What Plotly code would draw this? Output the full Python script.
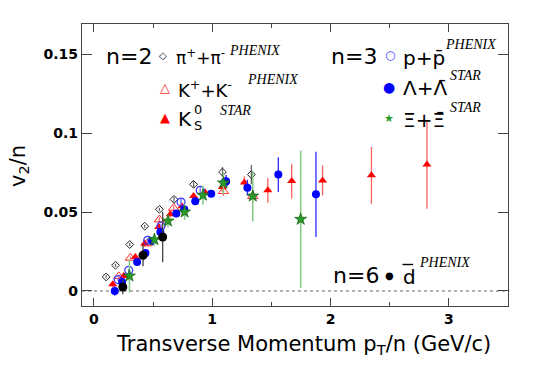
import plotly.graph_objects as go

# ---------------- data ----------------
pion_x = [0.104, 0.183, 0.303, 0.43, 0.554, 0.677, 0.843, 1.087, 1.331]
pion_y = [0.0089, 0.0163, 0.0294, 0.041, 0.0517, 0.058, 0.0675, 0.0753, 0.0737]
pion_err = [0.001, 0.001, 0.001, 0.001, 0.001, 0.0015, 0.002, 0.003, 0.006]

kaon_x = [0.211, 0.309, 0.45, 0.554, 0.674, 1.095, 1.343]
kaon_y = [0.0093, 0.0209, 0.030, 0.0452, 0.0525, 0.0631, 0.060]
kaon_err = [0.001, 0.001, 0.001, 0.0015, 0.0015, 0.003, 0.004]

ks_x = [0.16, 0.253, 0.351, 0.43, 0.548, 0.646, 0.745, 0.843, 0.941, 1.085,
        1.272, 1.47, 1.672, 1.933, 2.346, 2.815]
ks_y = [0.0042, 0.0095, 0.0215, 0.030, 0.0405, 0.0485, 0.0536, 0.0601, 0.0623,
        0.0658, 0.0686, 0.0637, 0.0696, 0.070, 0.0732, 0.080]
ks_err = [0.002, 0.002, 0.002, 0.002, 0.002, 0.002, 0.002, 0.002, 0.002, 0.003,
          0.004, 0.0078, 0.011, 0.0095, 0.018, 0.028]

pbar_x = [0.206, 0.295, 0.455, 0.568, 0.737, 0.899, 1.11]
pbar_y = [0.0072, 0.0131, 0.0321, 0.0411, 0.0563, 0.0637, 0.069]
pbar_err = [0.001, 0.001, 0.0015, 0.0015, 0.002, 0.002, 0.003]

lam_x = [0.177, 0.239, 0.366, 0.436, 0.492, 0.562, 0.697, 0.764, 0.857, 0.992,
         1.118, 1.298, 1.559, 1.877]
lam_y = [0.0, 0.0057, 0.0184, 0.024, 0.0316, 0.0373, 0.049, 0.0517, 0.0568,
         0.0616, 0.0694, 0.0654, 0.0737, 0.0612]
lam_err = [0.003, 0.002, 0.002, 0.002, 0.002, 0.002, 0.002, 0.002, 0.002, 0.002,
           0.004, 0.005, 0.011, 0.027]

xi_x = [0.301, 0.512, 0.627, 0.767, 0.922, 1.095, 1.343, 1.748]
xi_y = [0.0095, 0.0325, 0.0443, 0.050, 0.0606, 0.0684, 0.0601, 0.0454]
xi_err = [0.0105, 0.004, 0.004, 0.005, 0.006, 0.007, 0.016, 0.0435]

dbar_x = [0.245, 0.416, 0.582]
dbar_y = [0.0025, 0.0226, 0.0342]
dbar_err = [0.0045, 0.007, 0.016]

x_ticks = [0, 1, 2, 3]
x_ticklabels = ["0", "1", "2", "3"]
y_ticks = [0, 0.05, 0.1, 0.15]
y_ticklabels = ["0", "0.05", "0.1", "0.15"]

# ---------------- figure ----------------
SANS = "DejaVu Sans"
SERIF = "Liberation Serif"

fig = go.Figure()


def add(x, y, err, symbol, size, color, line_color, line_w, err_color, err_w=1.3):
    fig.add_trace(go.Scatter(
        x=x, y=y, mode="markers",
        error_y=dict(type="data", array=err, visible=True, color=err_color,
                     thickness=err_w, width=0),
        marker=dict(symbol=symbol, size=size, color=color,
                    line=dict(color=line_color, width=line_w)),
        showlegend=False, hoverinfo="skip"))


add(pion_x, pion_y, pion_err, "diamond-open", 6, "#222222", "#222222", 1, "#666666")
add(kaon_x, kaon_y, kaon_err, "triangle-up-open", 9, "#ff2a2a", "#ff2a2a", 1, "#ff7070")
add(ks_x, ks_y, ks_err, "triangle-up", 8, "#ff0000", "#ff0000", 0, "#ff6060")
add(pbar_x, pbar_y, pbar_err, "circle-open", 8, "#3a3aff", "#3a3aff", 1.2, "#6a6aff")
add(lam_x, lam_y, lam_err, "circle", 8, "#0000ff", "#0000ff", 0, "#2a2aff")
add(xi_x, xi_y, xi_err, "star", 9, "#2a9a2a", "#106010", 0.7, "#8acb8a", 1.6)
add(dbar_x, dbar_y, dbar_err, "circle", 9, "#000000", "#000000", 0, "#444444")

L, R, T, B = 82, 26, 24, 60
W, H = 534, 366
PW, PH = W - L - R, H - T - B


def px(xp):
    return (xp - L) / PW


def py(yp):
    return (H - B - yp) / PH


ann = []


def text(s, x, y, size, family=SANS, color="black", xanchor="left",
         yanchor="middle", italic=False, angle=0):
    ann.append(dict(text=s, x=px(x), y=py(y), xref="paper", yref="paper",
                    showarrow=False, xanchor=xanchor, yanchor=yanchor,
                    textangle=angle,
                    font=dict(family=family, size=size, color=color,
                              style="italic" if italic else "normal")))


# left legend block
text("n=2", 104, 56, 22)
text("\u25C7", 163, 55, 10, color="#222222", xanchor="center")
text("\u03C0<sup>+</sup>+\u03C0<sup>-</sup>", 174, 57, 17)
text("PHENIX", 227, 51, 14, family=SERIF, italic=True)
text("\u25B3", 165, 87, 13, color="#ff2a2a", xanchor="center")
text("K<sup>+</sup>+K<sup>-</sup>", 176, 89, 18)
text("PHENIX", 245, 80, 14, family=SERIF, italic=True)
text("\u25B2", 165, 117, 13, color="#ff0000", xanchor="center")
text("K", 176, 119, 20)
text("0", 192, 109, 13)
text("S", 192, 125, 13)
text("STAR", 218, 110, 14, family=SERIF, italic=True)

# right legend block
text("n=3", 329, 56, 22)
text("\u25CB", 390, 55, 12, color="#3a3aff", xanchor="center")
text("p+p\u0304", 401, 58, 20)
text("PHENIX", 443, 44, 14, family=SERIF, italic=True)
text("\u25CF", 389, 87, 14, color="#0000ff", xanchor="center")
text("\u039B+\u039B\u0304", 401, 88, 20)
text("STAR", 448, 75, 14, family=SERIF, italic=True)
text("\u2605", 389, 118, 11, color="#2a9a2a", xanchor="center")
text("\u039E+\u039E\u0304", 401, 120, 20)
text("STAR", 448, 107, 14, family=SERIF, italic=True)

text("n=6", 331, 275, 22)
text("\u25CF", 389, 275, 10, color="#000000", xanchor="center")
text("d", 401, 277, 20)
text("PHENIX", 417, 262, 14, family=SERIF, italic=True)

# axis titles
text("Transverse Momentum p<sub>T</sub>/n (GeV/c)", 493, 345, 21, xanchor="right")
text("v<sub>2</sub>/n", 19, 166, 21, xanchor="center", angle=-90)

axis_common = dict(showline=True, linecolor="#444444", linewidth=1.2,
                   mirror="allticks", ticks="inside", tickcolor="#444444",
                   showgrid=False, zeroline=False,
                   tickfont=dict(family=SANS, size=14, color="black", weight="bold"))

fig.update_layout(
    width=W, height=H,
    margin=dict(l=L, r=R, t=T, b=B),
    paper_bgcolor="white", plot_bgcolor="white",
    annotations=ann,
    shapes=[
        dict(type="line", xref="paper", yref="y", x0=0, x1=1, y0=0, y1=0,
             line=dict(color="#666666", width=1, dash="3px,3px"), layer="below"),
        # overline of the anti-deuteron symbol
        dict(type="line", xref="paper", yref="paper", x0=px(402.5), x1=px(413),
             y0=py(264.5), y1=py(264.5), line=dict(color="black", width=1.4)),
    ],
    xaxis=dict(range=[-0.1, 3.5], tickvals=x_ticks, ticktext=x_ticklabels,
               ticklen=8, tickwidth=1,
               minor=dict(dtick=0.5, ticks="inside", ticklen=4, tickcolor="#444444"),
               **axis_common),
    yaxis=dict(range=[-0.0095, 0.169], tickvals=y_ticks, ticktext=y_ticklabels,
               ticklen=10, tickwidth=1, **axis_common),
)

fig.write_html(
    "out.html",
    config={"displayModeBar": False},
    post_script="document.body.style.margin='0';document.body.style.overflow='hidden';",
)
